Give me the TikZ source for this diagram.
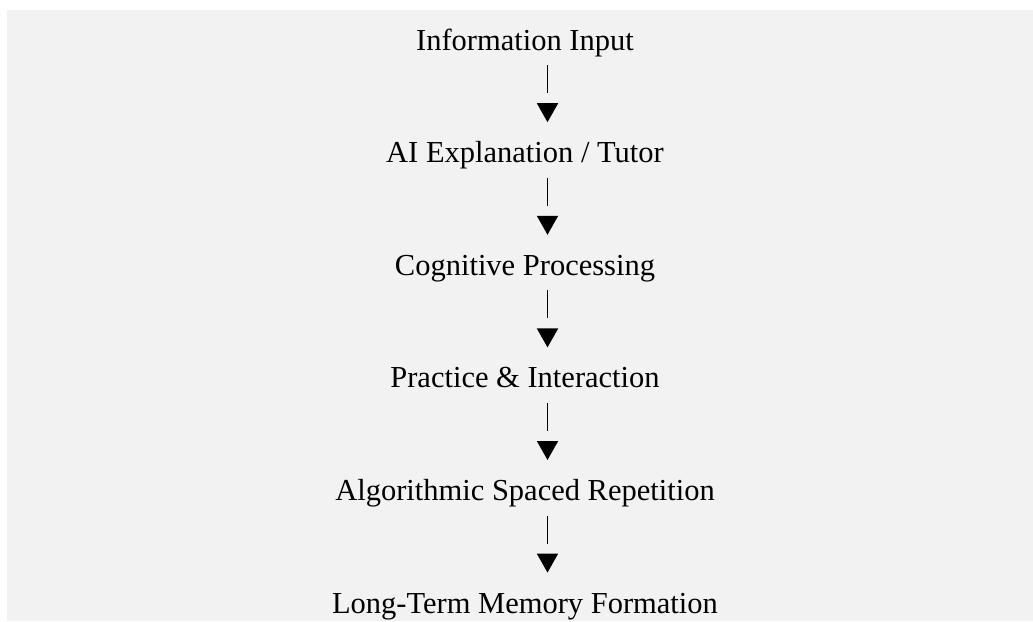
\documentclass[tikz,border=0pt]{standalone}
\usepackage{fontspec}
\setmainfont{Liberation Serif}
\usepackage{tikz}
\usetikzlibrary{arrows.meta}
\usetikzlibrary{backgrounds}
\usetikzlibrary{positioning}
\definecolor{panelgray}{HTML}{F2F2F2}
\tikzset{flow/.style={line width=1.8pt, shorten <=8pt, shorten >=18.2pt, dash pattern=on 28pt off 80pt}}

\begin{document}
\begin{tikzpicture}[->,>={Triangle[length=19pt,width=21pt]}, node distance=83.2pt]
\tikzstyle{stage} = [inner sep=0pt, text height=22pt, text depth=7pt, font=\fontsize{30.5}{37}\selectfont]
\useasboundingbox (0,0) rectangle (1033pt,-621pt);

\node[stage, anchor=base] (INPUT) at (525pt,-50pt) {Information Input};

\node[stage] (TUTOR) [below=of INPUT] {AI Explanation / Tutor};

\node[stage] (COGNITIVE) [below=of TUTOR] {Cognitive Processing};

\node[stage] (PRACTICE) [below=of COGNITIVE] {Practice \& Interaction};

\node[stage] (SPACED) [below=of PRACTICE] {Algorithmic Spaced Repetition};

\node[stage] (MEMORY) [below=of SPACED] {Long-Term Memory Formation};

\path[draw,flow] ([xshift=22.5pt]INPUT.south) -- ([xshift=22.5pt]TUTOR.north);
\path[draw,flow] ([xshift=22.5pt]TUTOR.south) -- ([xshift=22.5pt]COGNITIVE.north);
\path[draw,flow] ([xshift=22.5pt]COGNITIVE.south) -- ([xshift=22.5pt]PRACTICE.north);
\path[draw,flow] ([xshift=22.5pt]PRACTICE.south) -- ([xshift=22.5pt]SPACED.north);
\path[draw,flow] ([xshift=22.5pt]SPACED.south) -- ([xshift=22.5pt]MEMORY.north);

\begin{scope}[on background layer]
\fill[panelgray,-] (7pt,-10pt) rectangle (1033pt,-621pt);
\end{scope}
\end{tikzpicture}
\end{document}
